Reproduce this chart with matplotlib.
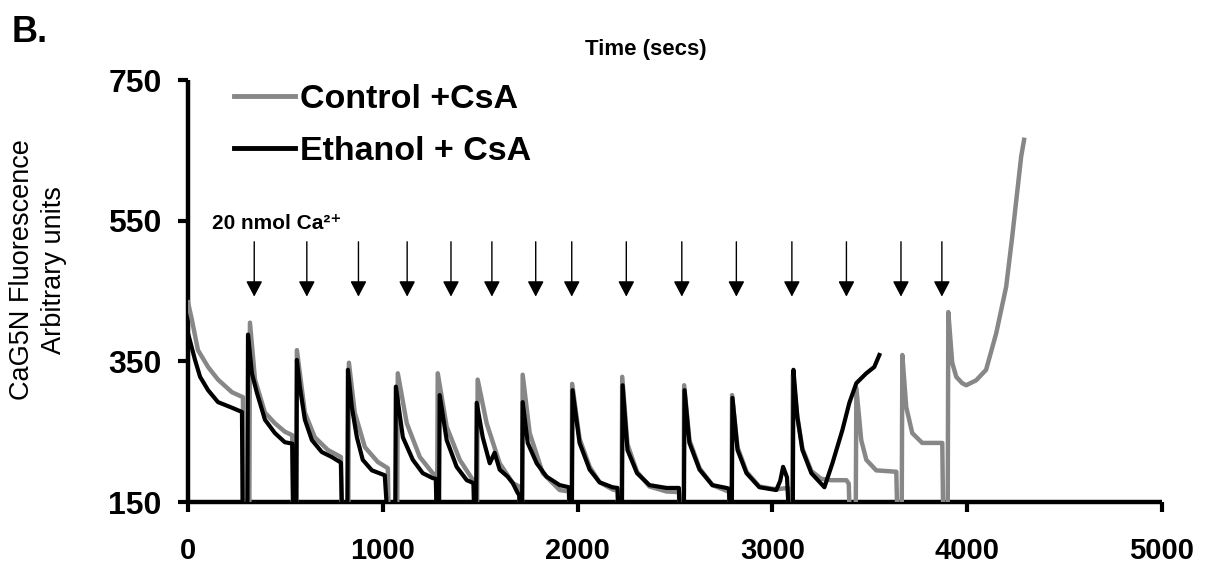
import matplotlib
matplotlib.use("Agg")
import matplotlib.pyplot as plt
from matplotlib.lines import Line2D

plt.rcParams['font.family'] = ['Liberation Sans', 'DejaVu Sans']

# ---------------- data ----------------
control_t = [0, 20, 51, 103, 154, 226, 282, 285, 315, 318, 344, 395, 446, 497, 535,
             538, 556, 559, 600, 651, 718, 785, 788, 823, 826, 856, 908, 974, 1026,
             1029, 1074, 1077, 1123, 1190, 1256, 1276, 1279, 1279, 1282, 1328, 1395,
             1456, 1470, 1473, 1484, 1487, 1533, 1600, 1667, 1700, 1703, 1715, 1718,
             1754, 1821, 1908, 1955, 1958, 1969, 1972, 2010, 2062, 2113, 2179, 2205,
             2208, 2226, 2229, 2256, 2305, 2369, 2456, 2520, 2523, 2544, 2547, 2574,
             2626, 2692, 2764, 2777, 2780, 2790, 2793, 2821, 2867, 2933, 3020, 3080,
             3083, 3102, 3105, 3128, 3154, 3200, 3250, 3300, 3380, 3392, 3395, 3428,
             3431, 3456, 3482, 3533, 3636, 3640, 3664, 3667, 3687, 3718, 3769, 3872,
             3876, 3900, 3903, 3923, 3944, 3974, 3995, 4046, 4097, 4149, 4200, 4231,
             4256, 4277, 4292]
control_v = [434, 409, 366, 342, 324, 306, 299, 145, 145, 405, 324, 277, 262, 250, 245,
             145, 145, 366, 277, 242, 224, 214, 145, 145, 348, 277, 228, 207, 198,
             145, 145, 333, 262, 214, 191, 188, 145, 145, 333, 257, 210,
             184, 180, 145, 145, 324, 262, 205, 177, 172, 145, 145, 331,
             248, 191, 167, 165, 145, 145, 318, 240, 200, 178, 168, 166,
             145, 145, 328, 232, 193, 172, 165, 164, 145, 145, 316, 238,
             198, 174, 166, 165, 145, 145, 302, 228, 193, 172, 168, 170,
             145, 145, 330, 272, 226, 194, 183, 181, 181, 176, 145, 145,
             312, 238, 210, 195, 193, 145, 145, 359, 285, 248, 234, 234,
             145, 145, 420, 348, 328, 319, 316, 323, 338, 390, 456, 527,
             589, 641, 665]

ethanol_t = [0, 36, 62, 103, 154, 226, 277, 280, 305, 308, 328, 354, 395, 446, 497,
             535, 540, 556, 559, 574, 600, 636, 687, 738, 785, 790, 818, 821, 841,
             867, 897, 944, 1010, 1020, 1064, 1067, 1103, 1154, 1205, 1256, 1272,
             1275, 1289, 1292, 1328, 1379, 1431, 1465, 1468, 1479, 1482, 1513, 1549,
             1574, 1600, 1641, 1667, 1692, 1700, 1703, 1715, 1718, 1744, 1790, 1841,
             1908, 1955, 1958, 1971, 1974, 2010, 2062, 2113, 2179, 2205, 2208, 2228,
             2231, 2256, 2305, 2369, 2456, 2520, 2523, 2546, 2549, 2574, 2626, 2692,
             2764, 2777, 2780, 2792, 2795, 2821, 2867, 2933, 3020, 3040, 3055, 3075,
             3082, 3105, 3108, 3128, 3154, 3200, 3267, 3308, 3359, 3395, 3431, 3482,
             3523, 3549]
ethanol_v = [390, 352, 328, 309, 292, 284, 278, 145, 145, 388, 333, 305, 267, 248, 235,
             233, 145, 145, 352, 314, 267, 238, 221, 214, 206, 145, 145, 338, 285,
             242, 210, 195, 188, 145, 145, 314, 242, 210, 191, 184, 183,
             145, 145, 302, 238, 200, 181, 177, 145, 145, 291, 242, 205,
             220, 196, 186, 177, 163, 160, 145, 145, 292, 234, 205, 186,
             174, 171, 145, 145, 309, 234, 196, 178, 171, 170, 145, 145,
             316, 224, 191, 174, 170, 170, 145, 145, 309, 234, 196, 174,
             170, 169, 145, 145, 298, 224, 191, 171, 167, 180, 200, 185,
             145, 145, 338, 271, 224, 191, 171, 205, 252, 291, 319, 333,
             342, 359]

arrow_times = [340, 610, 875, 1125, 1350, 1560, 1785, 1970, 2250, 2535, 2815,
               3100, 3380, 3660, 3870]
arrow_top = 520
arrow_tip = 442

x_ticks = [0, 1000, 2000, 3000, 4000, 5000]
y_ticks = [150, 350, 550, 750]
series_labels = ['Control +CsA', 'Ethanol + CsA']

# ---------------- figure ----------------
W, H = 1207, 575
fig = plt.figure(figsize=(W / 100, H / 100), dpi=100)
ax = fig.add_axes([188 / W, 1 - 502 / H, (1162 - 188) / W, (502 - 80) / H])

gray = '#878787'
ax.plot(control_t, control_v, color=gray, lw=3.2, solid_joinstyle='round',
        label=series_labels[0], zorder=3)
ax.plot(ethanol_t, ethanol_v, color='black', lw=3.0, solid_joinstyle='round',
        label=series_labels[1], zorder=4)

for t in arrow_times:
    ax.annotate('', xy=(t, arrow_tip), xytext=(t, arrow_top),
                arrowprops=dict(arrowstyle='-|>,head_length=0.95,head_width=0.5',
                                color='black', lw=1.0, shrinkA=0, shrinkB=0))

ax.text(123, 546, '20 nmol Ca²⁺', fontsize=15, fontweight='bold',
        ha='left', va='center')

ax.set_xlim(0, 5000)
ax.set_ylim(150, 750)
ax.set_xticks(x_ticks)
ax.set_yticks(y_ticks)
ax.set_xticklabels([str(v) for v in x_ticks], fontsize=21, fontweight='bold')
ax.set_yticklabels([str(v) for v in y_ticks], fontsize=23, fontweight='bold')
ax.tick_params(axis='both', direction='out', width=3, length=7, color='black')
ax.tick_params(axis='x', pad=18)
ax.tick_params(axis='y', pad=12)
for s in ['top', 'right']:
    ax.spines[s].set_visible(False)
for s in ['left', 'bottom']:
    ax.spines[s].set_linewidth(3.2)
    ax.spines[s].set_capstyle('butt')

handles = [Line2D([], [], color=gray, lw=3.5), Line2D([], [], color='black', lw=3.5)]
leg = ax.legend(handles, series_labels, loc='upper left',
                bbox_to_anchor=(234 / W, 1 - 84 / H), bbox_transform=fig.transFigure,
                frameon=False, borderpad=0, borderaxespad=0, handlelength=1.8,
                handletextpad=0.15, labelspacing=0.62,
                prop={'size': 24.5, 'weight': 'bold'})

fig.text(12 / W, 1 - 32 / H, 'B.', fontsize=26, fontweight='bold', ha='left', va='center')
fig.text(646 / W, 1 - 50 / H, 'Time (secs)', fontsize=16, fontweight='bold',
         ha='center', va='center')
fig.text(38 / W, 1 - 270 / H, 'CaG5N Fluorescence\nArbitrary units', fontsize=19.5,
         rotation=90, ha='center', va='center', multialignment='center',
         linespacing=1.3)

fig.savefig('out.png', dpi=100)
